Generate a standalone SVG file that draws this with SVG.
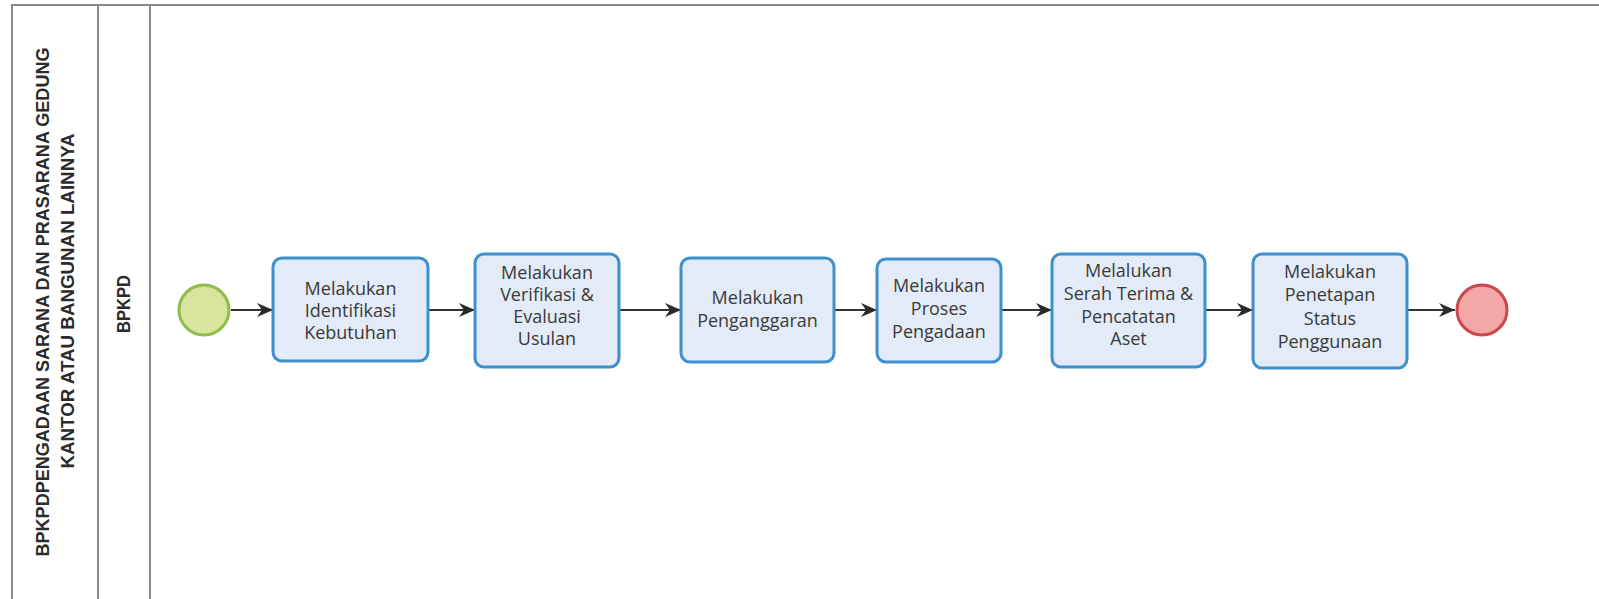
<svg xmlns="http://www.w3.org/2000/svg" width="1599" height="599" viewBox="0 0 1599 599">
<defs>
<style>
.lane{fill:none;stroke:#8a8a8a;stroke-width:2}
.title{font-family:"Liberation Sans",Arial,sans-serif;font-weight:bold;font-size:18px;fill:#2b2b2b;text-anchor:middle}
.task rect{fill:#e2ebf7;stroke:#3d8fce;stroke-width:3}
.task text{font-family:"Open Sans","Noto Sans",sans-serif;font-size:18px;fill:#3a3a3a;text-anchor:middle}
.conn line{stroke:#333;stroke-width:2}
</style>
<marker id="arr" viewBox="0 0 16 14" markerWidth="16" markerHeight="14" refX="16" refY="7" orient="auto" markerUnits="userSpaceOnUse">
<path d="M0,0 L16,7 L0,14 L5,7 z" fill="#2a2a2a"/>
</marker>
</defs>
<rect width="1599" height="599" fill="#ffffff"/>
<g id="pool">
<rect class="lane" x="12" y="5" width="1600" height="600"/>
<line class="lane" x1="98" y1="5" x2="98" y2="599"/>
<line class="lane" x1="150" y1="5" x2="150" y2="599"/>
<text class="title" transform="translate(49,302) rotate(-90)" textLength="509" lengthAdjust="spacingAndGlyphs">BPKPDPENGADAAN SARANA DAN PRASARANA GEDUNG</text>
<text class="title" transform="translate(74,301) rotate(-90)" textLength="335" lengthAdjust="spacingAndGlyphs">KANTOR ATAU BANGUNAN LAINNYA</text>
<text class="title" transform="translate(130,304) rotate(-90)" textLength="58" lengthAdjust="spacingAndGlyphs">BPKPD</text>
</g>
<g class="conn" id="connectors">
<line x1="231" y1="310" x2="273" y2="310" marker-end="url(#arr)"/>
<line x1="428" y1="310" x2="475" y2="310" marker-end="url(#arr)"/>
<line x1="619" y1="310" x2="681" y2="310" marker-end="url(#arr)"/>
<line x1="834" y1="310" x2="877" y2="310" marker-end="url(#arr)"/>
<line x1="1001" y1="310" x2="1052" y2="310" marker-end="url(#arr)"/>
<line x1="1205" y1="310" x2="1253" y2="310" marker-end="url(#arr)"/>
<line x1="1407" y1="310" x2="1455" y2="310" marker-end="url(#arr)"/>
</g>
<g id="start"><circle cx="204" cy="310" r="25" fill="#d9e49e" stroke="#8fbd4c" stroke-width="3"/></g>
<g id="end"><circle cx="1482" cy="310" r="25" fill="#f4a7a7" stroke="#c9484b" stroke-width="3"/></g>
<g id="task1" class="task"><rect x="273" y="258" width="155" height="103" rx="9"/>
<text x="350.5" y="295">Melakukan</text><text x="350.5" y="317">Identifikasi</text><text x="350.5" y="339">Kebutuhan</text></g>
<g id="task2" class="task"><rect x="475" y="254" width="144" height="113" rx="9"/>
<text x="547" y="279">Melakukan</text><text x="547" y="301">Verifikasi &amp;</text><text x="547" y="323">Evaluasi</text><text x="547" y="345">Usulan</text></g>
<g id="task3" class="task"><rect x="681" y="258" width="153" height="104" rx="9"/>
<text x="757.5" y="304">Melakukan</text><text x="757.5" y="327">Penganggaran</text></g>
<g id="task4" class="task"><rect x="877" y="259" width="124" height="103" rx="9"/>
<text x="939" y="292">Melakukan</text><text x="939" y="315">Proses</text><text x="939" y="338">Pengadaan</text></g>
<g id="task5" class="task"><rect x="1052" y="254" width="153" height="113" rx="9"/>
<text x="1128.5" y="277">Melalukan</text><text x="1128.5" y="300">Serah Terima &amp;</text><text x="1128.5" y="323">Pencatatan</text><text x="1128.5" y="345">Aset</text></g>
<g id="task6" class="task"><rect x="1253" y="254" width="154" height="114" rx="9"/>
<text x="1330" y="278">Melakukan</text><text x="1330" y="301">Penetapan</text><text x="1330" y="325">Status</text><text x="1330" y="348">Penggunaan</text></g>
</svg>
